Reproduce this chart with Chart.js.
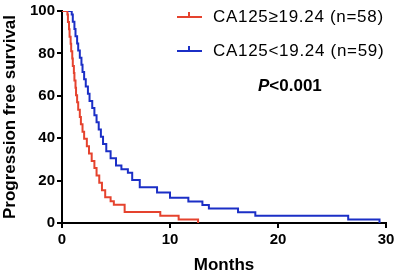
<!DOCTYPE html>
<html>
<head>
<meta charset="utf-8">
<script src="https://cdn.jsdelivr.net/npm/chart.js@4"></script>
<style>
    html, body { margin: 0; padding: 0; background: #fff; }
    #wrap { width: 398px; height: 274px; position: relative; }
</style>
</head>
<body>
<div id="wrap"><canvas id="km-chart"></canvas></div>
<script>
// Kaplan-Meier steps: time (months) and survival (%)
const highTimes = [0, 0.5, 0.55, 0.65, 0.7, 0.8, 0.85, 0.95, 1.0, 1.1, 1.15, 1.25, 1.3, 1.4, 1.5, 1.65, 1.75, 1.9, 2.05, 2.3, 2.5, 2.75, 3.0, 3.2, 3.45, 3.7, 4.0, 4.5, 4.8, 5.8, 9.1, 10.8, 12.6];
const highSurv = [100, 98.3, 94.8, 91.4, 87.9, 84.5, 81.0, 77.6, 74.1, 70.7, 67.2, 63.8, 60.3, 56.9, 53.4, 50.0, 46.6, 43.1, 39.7, 36.2, 32.8, 29.3, 25.9, 22.4, 19.0, 15.5, 12.1, 10.3, 8.6, 5.2, 3.4, 1.7, 0];

const lowTimes = [0, 0.9, 1.0, 1.15, 1.25, 1.4, 1.5, 1.65, 1.8, 1.9, 2.05, 2.2, 2.4, 2.55, 2.8, 3.0, 3.2, 3.4, 3.6, 3.8, 4.1, 4.5, 5.0, 5.5, 6.1, 6.5, 7.2, 8.8, 10.0, 11.7, 13.0, 13.6, 16.3, 17.9, 26.5, 29.4];
const lowSurv = [100, 98.3, 94.9, 91.5, 88.1, 84.7, 81.4, 78.0, 74.6, 71.2, 67.8, 64.4, 61.0, 57.6, 54.2, 50.8, 47.5, 44.1, 40.7, 37.3, 33.9, 30.5, 27.1, 25.4, 23.7, 20.3, 16.9, 14.4, 11.9, 10.2, 8.5, 6.8, 5.1, 3.4, 1.7, 0];

const seriesLabels = ["CA125\u226519.24 (n=58)", "CA125<19.24 (n=59)"];
const seriesColors = ["#E5432E", "#1B2FC6"];
const xTicks = [0, 10, 20, 30];
const yTicks = [0, 20, 40, 60, 80, 100];
const pText = "<0.001";

function toPoints(times, surv) {
    return times.map((t, i) => ({ x: t, y: surv[i] }));
}

// legend and p-value drawn next to the curves
const legendPlugin = {
    id: "kmLegend",
    afterDraw(chart) {
        const ctx = chart.ctx;
        const rows = [17, 51];
        ctx.save();
        rows.forEach((y, i) => {
            ctx.strokeStyle = seriesColors[i];
            ctx.lineWidth = 2;
            ctx.beginPath();
            ctx.moveTo(177, y);
            ctx.lineTo(202, y);
            ctx.moveTo(189, y);
            ctx.lineTo(189, y - 5);
            ctx.stroke();
            ctx.fillStyle = "#000";
            ctx.font = "17px 'Liberation Sans', Arial, sans-serif";
            ctx.letterSpacing = "0.7px";
            ctx.textBaseline = "middle";
            ctx.textAlign = "left";
            ctx.fillText(seriesLabels[i], 213, y);
        });
        ctx.letterSpacing = "0px";
        ctx.font = "italic bold 17px 'Liberation Sans', Arial, sans-serif";
        ctx.fillText("P", 258, 86);
        const pw = ctx.measureText("P").width;
        ctx.font = "bold 17px 'Liberation Sans', Arial, sans-serif";
        ctx.fillText(pText, 258 + pw, 86);
        ctx.restore();
    }
};

const ctx = document.getElementById("km-chart").getContext("2d");
new Chart(ctx, {
    type: "line",
    data: {
        datasets: [
            {
                label: seriesLabels[0],
                data: toPoints(highTimes, highSurv),
                borderColor: seriesColors[0],
                borderWidth: 2,
                stepped: "before",
                pointRadius: 0,
                fill: false
            },
            {
                label: seriesLabels[1],
                data: toPoints(lowTimes, lowSurv),
                borderColor: seriesColors[1],
                borderWidth: 2,
                stepped: "before",
                pointRadius: 0,
                fill: false
            }
        ]
    },
    options: {
        responsive: true,
        maintainAspectRatio: false,
        animation: false,
        layout: { padding: { left: 0, right: 12, top: 8, bottom: 0 } },
        plugins: {
            legend: { display: false },
            tooltip: { enabled: false }
        },
        scales: {
            x: {
                type: "linear",
                min: 0,
                max: 30,
                afterFit: (scale) => { scale.height = 51; },
                afterBuildTicks: (scale) => { scale.ticks = xTicks.map(v => ({ value: v })); },
                border: { color: "#000", width: 2 },
                grid: { drawOnChartArea: false, drawTicks: true, tickLength: 5, color: "#000", lineWidth: 2 },
                ticks: {
                    color: "#000",
                    padding: 3,
                    maxRotation: 0,
                    font: { family: "'Liberation Sans', Arial, sans-serif", size: 15, weight: "bold" }
                },
                title: {
                    display: true,
                    text: "Months",
                    color: "#000",
                    padding: { top: 0, bottom: -2 },
                    font: { family: "'Liberation Sans', Arial, sans-serif", size: 17, weight: "bold" }
                }
            },
            y: {
                min: 0,
                max: 100,
                afterFit: (scale) => { scale.width = 62; },
                afterBuildTicks: (scale) => { scale.ticks = yTicks.map(v => ({ value: v })); },
                border: { color: "#000", width: 2 },
                grid: { drawOnChartArea: false, drawTicks: true, tickLength: 5, color: "#000", lineWidth: 2 },
                ticks: {
                    color: "#000",
                    padding: 2,
                    font: { family: "'Liberation Sans', Arial, sans-serif", size: 15, weight: "bold" }
                },
                title: {
                    display: true,
                    text: "Progression free survival",
                    color: "#000",
                    padding: 0,
                    font: { family: "'Liberation Sans', Arial, sans-serif", size: 17, weight: "bold" }
                }
            }
        }
    },
    plugins: [legendPlugin]
});
</script>
</body>
</html>
